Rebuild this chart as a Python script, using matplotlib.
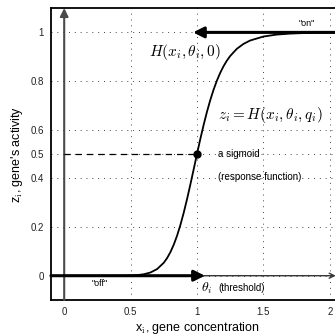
import numpy as np
import matplotlib
matplotlib.use("Agg")
import matplotlib.pyplot as plt

plt.rcParams['font.family'] = ['Liberation Sans', 'DejaVu Sans']
plt.rcParams['mathtext.fontset'] = 'cm'

# sigmoid response
xVals = [0.0, 0.1, 0.2, 0.3, 0.4, 0.45, 0.5, 0.55, 0.6, 0.65, 0.7, 0.75, 0.775, 0.8, 0.825, 0.85,
         0.875, 0.9, 0.925, 0.95, 0.975, 1.0, 1.025, 1.05, 1.075, 1.1, 1.125, 1.15, 1.175, 1.2,
         1.225, 1.25, 1.3, 1.35, 1.4, 1.5, 1.6, 1.7, 1.8, 1.9, 2.0, 2.1]
zVals = [0.0, 0.0, 0.0, 0.0, 0.0001, 0.0003, 0.001, 0.0025, 0.006, 0.0133, 0.0275, 0.0533, 0.0725,
         0.097, 0.1274, 0.1645, 0.2083, 0.2586, 0.3144, 0.3745, 0.437, 0.5, 0.5615, 0.6196,
         0.6733, 0.7217, 0.7646, 0.8018, 0.8338, 0.861, 0.8838, 0.903, 0.9324, 0.9526, 0.9666,
         0.983, 0.991, 0.995, 0.9972, 0.9985, 0.999, 0.9994]

xTicks = [0, 0.5, 1, 1.5, 2]
yTicks = [0, 0.2, 0.4, 0.5, 0.6, 0.8, 1]
xTickLabels = ['0', '0.5', '1', '1.5', '2']
yTickLabels = ['0', '0.2', '0.4', '0.5', '0.6', '0.8', '1']
theta = 1.0
halfLevel = 0.5

fig = plt.figure(figsize=(3.35, 3.36), dpi=100)
ax = fig.add_axes([0.152, 0.107, 0.872, 0.869])
ax.set_xlim(-0.1, 2.1)
ax.set_ylim(-0.1, 1.1)
ax.set_xticks(xTicks)
ax.set_xticklabels(xTickLabels)
ax.set_yticks(yTicks)
ax.set_yticklabels(yTickLabels)
ax.tick_params(labelsize=7, length=0, pad=5, colors='#222222')
ax.grid(True, linestyle=(0, (1, 5)), color='#444444', linewidth=0.7)
for s in ax.spines.values():
    s.set_linewidth(1.3)

# axes arrows
ax.annotate('', xy=(0, 1.1), xytext=(0, -0.1),
            arrowprops=dict(arrowstyle='-|>', color='#4a4a4a', lw=1.5, mutation_scale=12,
                            shrinkA=0, shrinkB=0), zorder=3)
ax.annotate('', xy=(2.045, 0), xytext=(-0.1, 0),
            arrowprops=dict(arrowstyle='->', color='#333333', lw=1.0, mutation_scale=9,
                            shrinkA=0, shrinkB=0), zorder=3)

# sigmoid
ax.plot(xVals, zVals, color='black', lw=1.3, zorder=4)

# "off" and "on" arrows
ax.annotate('', xy=(1.06, 0), xytext=(-0.1, 0),
            arrowprops=dict(arrowstyle='-|>', color='black', lw=2.2, mutation_scale=16,
                            shrinkA=0, shrinkB=0), zorder=5)
ax.annotate('', xy=(0.97, 1.0), xytext=(2.1, 1.0),
            arrowprops=dict(arrowstyle='-|>', color='black', lw=2.2, mutation_scale=16,
                            shrinkA=0, shrinkB=0), zorder=5)

# half level marker
ax.plot([0, theta], [halfLevel, halfLevel], color='black', lw=0.9, linestyle=(0, (5, 4)), zorder=4)
ax.plot([theta], [halfLevel], 'o', color='black', markersize=5, zorder=6)

ax.text(0.91, 0.918, r'$H(x_i,\theta_i,0)$', fontsize=11, ha='center', va='center')
ax.text(1.55, 0.66, r'$z_i = H(x_i,\theta_i,q_i)$', fontsize=11, ha='center', va='center')
ax.text(1.16, 0.502, 'a sigmoid', fontsize=7, ha='left', va='center')
ax.text(1.16, 0.407, '(response function)', fontsize=7, ha='left', va='center')
ax.text(1.03, -0.05, r'$\theta_i$', fontsize=10, ha='left', va='center')
ax.text(1.16, -0.05, '(threshold)', fontsize=7, ha='left', va='center')
ax.text(0.27, -0.033, '"off"', fontsize=6.5, ha='center', va='center')
ax.text(1.83, 1.037, '"on"', fontsize=6.5, ha='center', va='center')

ax.set_xlabel(r'x$_{\rm i}$, gene concentration', fontsize=9, labelpad=2)
ax.set_ylabel("z$_{\\rm i}$, gene's activity", fontsize=9, labelpad=4)

fig.savefig('out.png', dpi=100)
